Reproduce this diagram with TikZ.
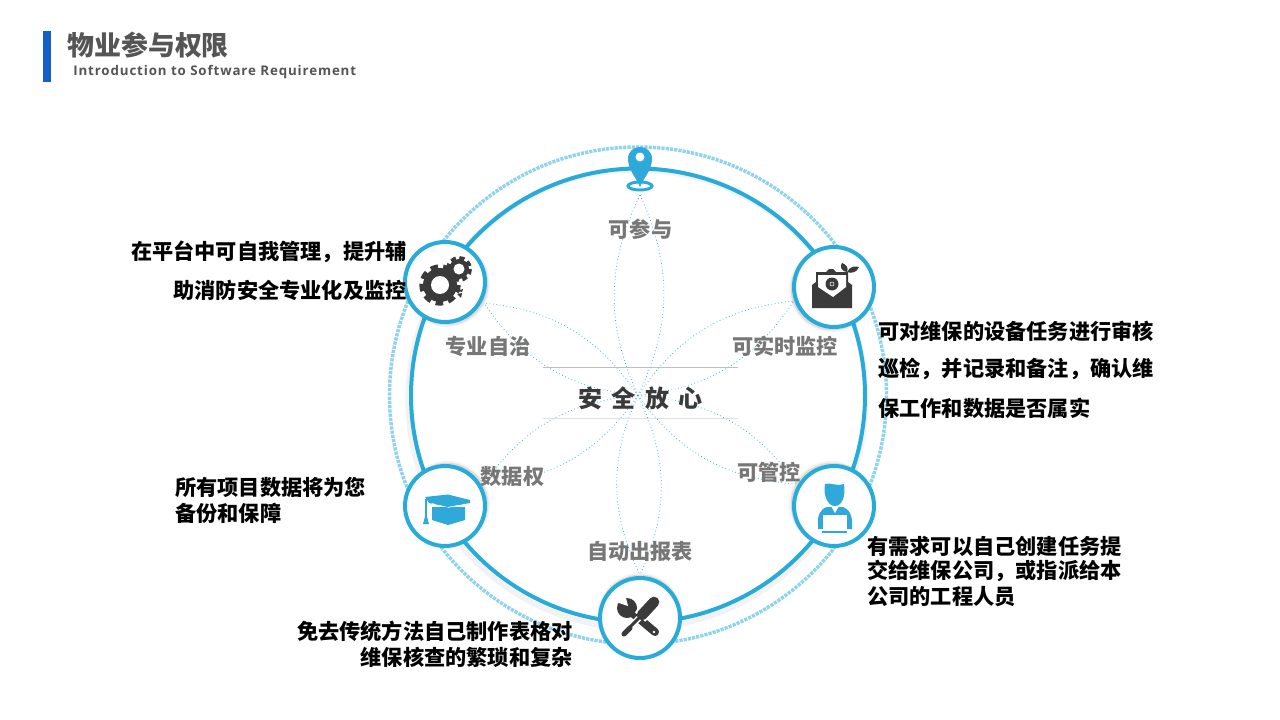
\documentclass[tikz,border=0pt]{standalone}
\usepackage{fontspec}
\setmainfont{Noto Sans CJK SC}
\newfontfamily\latinfont[LetterSpace=6.5]{Open Sans}
\usepackage{tikz}
\usetikzlibrary{positioning,shadows}
\definecolor{ringblue}{HTML}{29ABD9}
\definecolor{dotblue}{HTML}{8FD3EC}
\definecolor{barblue}{HTML}{1560C8}
\definecolor{iconblue}{HTML}{2FA9D9}
\definecolor{icondark}{HTML}{3A3A3A}
\definecolor{petalgrey}{HTML}{777777}
\definecolor{titlegrey}{HTML}{555555}

\begin{document}
\begin{tikzpicture}
                [x=0.75pt, y=-0.75pt,
                 softshade/.style 2 args = {general shadow={fill=black, opacity=0.05, shadow scale=1.07, shadow xshift=#1, shadow yshift=#2},
                                            general shadow={fill=black, opacity=0.09, shadow scale=1.03, shadow xshift=#1, shadow yshift=#2}},
                 badge/.style = {circle, draw=ringblue, fill=white, line width=3pt, minimum size=60pt, inner sep=0pt},
                 note/.style = {font=\bfseries\fontsize{15.9pt}{19pt}\selectfont, text=black, inner sep=0pt},
                 petallabel/.style = {font=\bfseries\fontsize{15.9pt}{18pt}\selectfont, text=petalgrey, inner sep=0pt},
                 petal/.style = {draw=ringblue, line width=0.55pt, dotted}]
    
                \useasboundingbox (0,0) rectangle (1280,720);
                \fill[white] (0,0) rectangle (1280,720);
    
                % heading
                \fill[barblue] (43,31) rectangle (51,82);
                \node[anchor=west, inner sep=0pt, text=titlegrey, font=\bfseries\fontsize{20.2pt}{24pt}\selectfont] (title) at (67,45) {物业参与权限};
                \node[anchor=west, inner sep=0pt, text=titlegrey, font=\latinfont\bfseries\fontsize{10pt}{12pt}\selectfont] (subtitle) at (73,72) {Introduction to Software Requirement};
    
                % rings
                \coordinate (core) at (638,395.5);
                \draw[dotblue, line width=2.6pt, dash pattern=on 2.4pt off 0.8pt] (core) circle (248.5);
                \draw[black, opacity=0.05, line width=4pt] (637,399) circle (229);
                \draw[ringblue, line width=3pt] (core) circle (227);
    
                % petals
                \coordinate (tiptop) at (640,195);
                \coordinate (tipgear) at (484,303);
                \coordinate (tipmail) at (794,301);
                \coordinate (tipuser) at (797,484);
                \coordinate (tipcap) at (483,485);
                \coordinate (tiptool) at (640,575);
    
                \draw[petal] (core) to[bend left=25] (tiptop);
                \draw[petal] (core) to[bend right=25] (tiptop);
                \draw[petal] (core) to[bend left=25] (tipgear);
                \draw[petal] (core) to[bend right=25] (tipgear);
                \draw[petal] (core) to[bend left=25] (tipmail);
                \draw[petal] (core) to[bend right=25] (tipmail);
                \draw[petal] (core) to[bend left=25] (tipuser);
                \draw[petal] (core) to[bend right=25] (tipuser);
                \draw[petal] (core) to[bend left=25] (tipcap);
                \draw[petal] (core) to[bend right=25] (tipcap);
                \draw[petal] (core) to[bend left=25] (tiptool);
                \draw[petal] (core) to[bend right=25] (tiptool);
    
                \coordinate (ruleA) at (543,367);
                \coordinate (ruleB) at (738,367);
                \coordinate (ruleC) at (543,418);
                \coordinate (ruleD) at (738,418);
                \draw[black!25, line width=0.5pt] (ruleA) -- (ruleB);
                \draw[black!12, line width=0.5pt] (ruleC) -- (ruleD);
    
                % badges
                \node[badge, softshade={1.5pt}{-1.5pt}] (gear) at (445,282) {};
                \node[badge, softshade={-1.5pt}{-1.5pt}] (mail) at (834,287) {};
                \node[badge, softshade={-1.5pt}{1.5pt}] (user) at (834,506) {};
                \node[badge, softshade={1.5pt}{1.5pt}] (cap) at (445,506) {};
                \node[badge, softshade={0pt}{1.5pt}] (tool) at (640,618) {};
    
                % labels
                \node[petallabel] (lbltop) at (640.5,229) {可参与};
                \node[petallabel] (lblgear) at (488,346) {专业自治};
                \node[petallabel] (lblmail) at (785,346) {可实时监控};
                \node[petallabel] (lbluser) at (769,472) {可管控};
                \node[petallabel] (lblcap) at (512.5,476) {数据权};
                \node[petallabel] (lbltool) at (640,551) {自动出报表};
                \node[inner sep=0pt, text=icondark, font=\bfseries\fontsize{18pt}{20pt}\selectfont] (hub) at (640.5,398) {安\hspace{6.8pt}全\hspace{6.8pt}放\hspace{6.8pt}心};
    
                % notes
                \node[note, anchor=east] (gearA) at (407,252) {在平台中可自我管理，提升辅};
                \node[note, anchor=east] (gearB) at (407,290) {助消防安全专业化及监控};
                \node[note, anchor=west] (mailA) at (878,331) {可对维保的设备任务进行审核};
                \node[note, anchor=west] (mailB) at (878,369) {巡检，并记录和备注，确认维};
                \node[note, anchor=west] (mailC) at (878,408) {保工作和数据是否属实};
                \node[note, anchor=west] (capA) at (175,487) {所有项目数据将为您};
                \node[note, anchor=west] (capB) at (175,513) {备份和保障};
                \node[note, anchor=west] (userA) at (867,546) {有需求可以自己创建任务提};
                \node[note, anchor=west] (userB) at (867,571) {交给维保公司，或指派给本};
                \node[note, anchor=west] (userC) at (867,597) {公司的工程人员};
                \node[note, anchor=east] (toolA) at (573,631) {免去传统方法自己制作表格对};
                \node[note, anchor=east] (toolB) at (573,657) {维保核查的繁琐和复杂};
    
                % pin icon
                \draw[ringblue, fill=white, line width=2.2pt] (640,186) ellipse (12 and 4);
                \fill[iconblue] (640,187) .. controls (636,177) and (628,170) .. (628,159) .. controls (628,143) and (652,143) .. (652,159) .. controls (652,170) and (644,177) .. (640,187) -- cycle;
                \fill[white] (640,157) circle (4.5);
    
                % gear icon
                \fill[icondark] (440,285) circle (17);
                \draw[icondark, line width=4pt, dash pattern=on 5.5pt off 3.92pt] (440,285) circle (18);
                \fill[white] (440,285) circle (9);
                \fill[icondark] (459,269) circle (10);
                \draw[icondark, line width=3pt, dash pattern=on 3.8pt off 2.68pt] (459,269) circle (11);
                \fill[white] (459,269) circle (5.5);
                \fill[icondark] (457,291) -- (463,289) -- (462,292) -- cycle;
                \fill[icondark] (457,294) -- (462,293) -- (461,298) -- cycle;
    
                % mail icon
                \fill[icondark] (812,308) -- (852,308) -- (852,285) -- (848,282) -- (848,272) -- (836,272) -- (833,269) -- (829,269) -- (826,272) -- (816,272) -- (816,282) -- (812,285) -- cycle;
                \fill[white] (818,275) -- (846,275) -- (846,287) -- (833,297) -- (818,287) -- cycle;
                \fill[icondark] (832,284) circle (6.5);
                \draw[white, line width=0.4pt] (832,284) circle (2);
                \fill[icondark] (847,272) .. controls (840,271) and (840,265) .. (842,263) .. controls (846,264) and (849,268) .. (847,272) -- cycle;
                \fill[icondark] (847,272) .. controls (850,266) and (855,266) .. (859,267) .. controls (857,272) and (852,274) .. (847,272) -- cycle;
    
                % user icon
                \fill[iconblue] (825,484) .. controls (830,482) and (838,487) .. (844,484) .. controls (846,496) and (842,506) .. (835,506) .. controls (828,506) and (823,496) .. (825,484) -- cycle;
                \fill[iconblue] (818,526) .. controls (817,516) and (820,509) .. (827,507) -- (843,507) .. controls (849,509) and (853,516) .. (852,526) -- (852,529) -- (818,529) -- cycle;
                \fill[white] (831,506) -- (839,506) -- (835,513) -- cycle;
                \fill[white] (823,515) rectangle (847,530);
                \fill[iconblue] (822,531) rectangle (847,533);
    
                % cap icon
                \fill[iconblue] (425,497) -- (448,494.5) -- (470,500) -- (470,503) -- (448,507) -- (429,503) -- cycle;
                \fill[iconblue] (432,507) -- (465,507) -- (465,520) -- (448,525) -- (432,520) -- cycle;
                \draw[white, line width=0.4pt, dashed] (432,503.5) -- (448,507.5) -- (465,504);
                \draw[iconblue, line width=1.1pt] (426,499) -- (426,516);
                \fill[iconblue] (426,513) -- (429,524) -- (423,524) -- cycle;
    
                % tool icon
                \fill[icondark] (627,608) circle (10);
                \fill[white] (628,606) -- (616,602) -- (614,594) -- (625,594) -- cycle;
                \draw[icondark, line width=6pt, line cap=round] (630,611) -- (655,632);
                \fill[white] (654,632) circle (1.3);
                \draw[white, line width=10.5pt, line cap=butt] (653,603) -- (640,617);
                \draw[white, line width=4.5pt] (640,617) -- (632,625);
                \draw[icondark, line width=8pt, line cap=round] (654,602) -- (642,615);
                \draw[icondark, line width=2.2pt] (642,615) -- (630,627);
                \draw[icondark, line width=3.8pt, line cap=round] (630,628) -- (624,634);
            \end{tikzpicture}
\end{document}
